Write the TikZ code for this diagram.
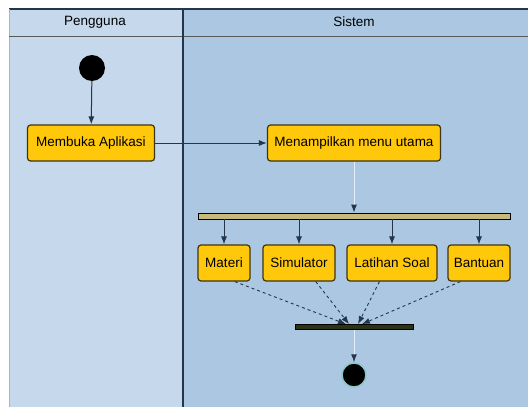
\documentclass[tikz,border=0pt]{standalone}
\usepackage{fontspec}
\setmainfont{Liberation Sans}
\usetikzlibrary{arrows.meta}

\definecolor{laneA}{HTML}{C6D8EC}
\definecolor{laneB}{HTML}{ABC7E1}
\definecolor{boxfill}{HTML}{FFC80A}
\definecolor{boxline}{HTML}{3E3410}
\definecolor{barfill}{HTML}{C9B97A}
\definecolor{joinfill}{HTML}{2C3214}
\definecolor{frameline}{HTML}{25364A}

\tikzset{
    akt/.style={draw=boxline, line width=1.2pt, fill=boxfill, rounded corners=3pt,
        minimum height=36pt, inner sep=2pt},
    bar/.style={draw=black, line width=0.8pt, minimum height=6pt, inner sep=0pt},
    samar/.style={draw=white!70!laneB, line width=1pt, -{Latex[length=8pt,width=6pt,color=frameline]}}
}

\begin{document}
\begin{tikzpicture}[x=1pt, y=-1pt, >={Latex[length=8pt,width=6pt]},
    font=\fontsize{13.5}{15}\selectfont]

    \useasboundingbox (0,0) rectangle (528,407);

    % 1. Latar swimlane
    \fill[white] (0,0) rectangle (528,407);
    \fill[laneA] (9,9) rectangle (183,407);
    \fill[laneB] (183,9) rectangle (528,407);
    \draw[frameline, line width=2pt] (9,9) -- (528,9);
    \draw[gray!60] (9,9) -- (9,407);
    \draw[gray!70!black, line width=1pt] (9,36) -- (528,36);
    \draw[frameline, line width=1.5pt] (183,9) -- (183,407);

    \node (hPengguna) at (95,22) {Pengguna};
    \node (hSistem) at (354,22) {Sistem};

    % 2. Awal dan aktivitas utama
    \node[circle, fill=black, minimum size=26pt, inner sep=0pt] (mulai) at (92,68) {};
    \node[akt, minimum width=127pt] (membuka) at (91,143) {Membuka Aplikasi};
    \node[akt, minimum width=173pt] (menu) at (354,143) {Menampilkan menu utama};

    \draw[->, frameline, line width=1pt] (mulai) -- (membuka);
    \draw[->, frameline, line width=1pt] (membuka) -- (menu);

    % 3. Fork ke menu pilihan
    \node[bar, fill=barfill, minimum width=312pt] (fork) at (354,216) {};
    \draw[samar] (menu) -- (fork);

    \foreach \nama/\x/\w/\teks in {materi/224/52/Materi, simulator/299/72/Simulator,
        latihan/392/90/Latihan Soal, bantuan/479/62/Bantuan} {
        \node[akt, minimum width=\w pt] (\nama) at (\x,263) {\teks};
        \draw[->, frameline, line width=0.9pt] (fork.south -| \nama.north) -- (\nama.north);
    }

    % 4. Join dan akhir
    \node[bar, fill=joinfill, minimum width=118pt, minimum height=5pt] (join) at (354,327) {};

    \foreach \nama/\sudut/\geser in {materi/-60/-8, simulator/-48/-5, latihan/-124/4, bantuan/-135/8} {
        \draw[->, dashed, frameline, line width=0.9pt] (\nama.\sudut) -- ([xshift=\geser pt]join.north);
    }

    \node[circle, fill=black, draw=teal!45, line width=1.5pt, minimum size=24pt, inner sep=0pt] (selesai) at (354,375) {};
    \draw[samar] (join) -- (selesai);

\end{tikzpicture}
\end{document}
